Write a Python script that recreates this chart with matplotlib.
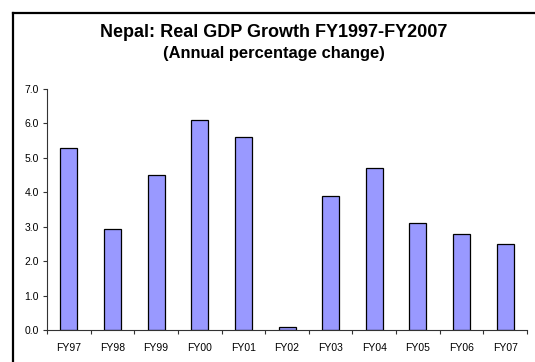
import matplotlib.pyplot as plt
import numpy as np
from matplotlib.lines import Line2D

plt.rcParams['font.family'] = ['Liberation Sans', 'DejaVu Sans']

# Real GDP growth, annual percentage change
years = ['FY97', 'FY98', 'FY99', 'FY00', 'FY01', 'FY02',
         'FY03', 'FY04', 'FY05', 'FY06', 'FY07']
growth = [5.3, 2.95, 4.5, 6.1, 5.6, 0.1, 3.9, 4.7, 3.1, 2.8, 2.5]

fig = plt.figure(figsize=(5.35, 3.62), dpi=100)
ax = fig.add_axes([0.088, 0.088, 0.897, 0.666])

x = np.arange(len(years))
ax.bar(x, growth, width=0.39, color='#9999ff', edgecolor='black', linewidth=0.9)

ax.set_xlim(-0.5, len(years) - 0.5)
ax.set_ylim(0, 7)
ax.set_yticks(np.arange(0, 7.1, 1.0))
ax.set_yticklabels([f'{v:.1f}' for v in np.arange(0, 7.1, 1.0)], fontsize=7.5)

# category labels centred, tick marks between categories
ax.set_xticks(x)
ax.set_xticklabels(years, fontsize=7.5)
ax.tick_params(axis='x', length=0, pad=9)
ax.set_xticks(np.arange(-0.5, len(years), 1.0), minor=True)
ax.tick_params(axis='x', which='minor', length=3, width=0.8, color='#333333')
ax.tick_params(axis='y', length=3, width=0.8, color='#333333', pad=3)

for side in ['top', 'right']:
    ax.spines[side].set_visible(False)
for side in ['left', 'bottom']:
    ax.spines[side].set_linewidth(0.8)
    ax.spines[side].set_color('#333333')

fig.text(0.512, 0.899, 'Nepal: Real GDP Growth FY1997-FY2007', ha='center', va='baseline',
         fontsize=12.95, fontweight='bold')
fig.text(0.512, 0.839, '(Annual percentage change)', ha='center', va='baseline',
         fontsize=11.9, fontweight='bold')

# chart frame (left and top edges)
fig.add_artist(Line2D([0.0243, 0.0243], [0.0, 0.964], transform=fig.transFigure,
                      color='black', linewidth=1.6))
fig.add_artist(Line2D([0.0243, 1.0], [0.964, 0.964], transform=fig.transFigure,
                      color='black', linewidth=1.6))

fig.savefig('out.png', dpi=100)
